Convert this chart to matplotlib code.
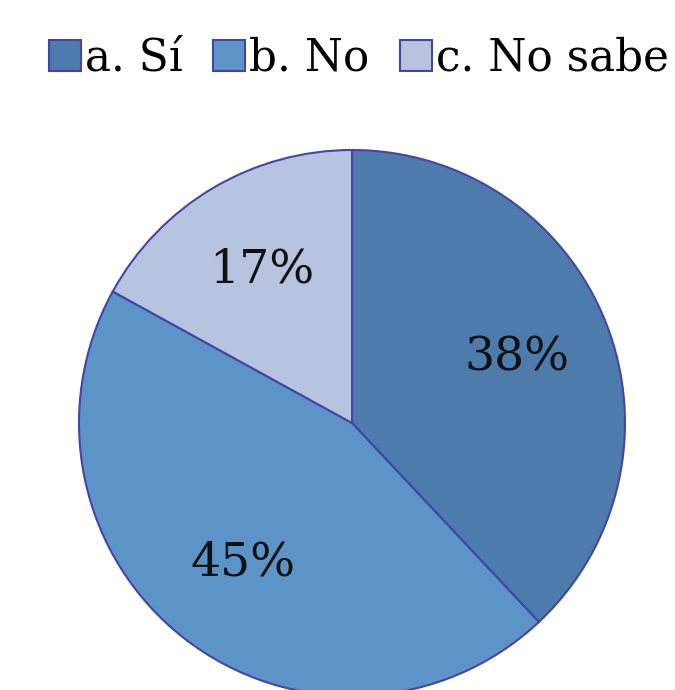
import matplotlib.pyplot as plt
from matplotlib.patches import Patch

labels = ["a. Sí", "b. No", "c. No sabe"]
values = [38, 45, 17]
colors = ["#4d7bab", "#5d94c8", "#b6c4e0"]
edge = "#4545a8"

plt.rcParams['font.family'] = ['DejaVu Serif']

fig = plt.figure(figsize=(6.75, 6.9), dpi=100)
ax = fig.add_axes([0, 0, 1, 1])

wedges, texts, autotexts = ax.pie(
    values, colors=colors, startangle=90, counterclock=False,
    center=(352, 267), radius=273, frame=True,
    autopct='%d%%', pctdistance=0.65,
    wedgeprops=dict(edgecolor=edge, linewidth=1.5),
    textprops=dict(fontsize=34, color='#111111'))
ax.set_xlim(0, 675)
ax.set_ylim(0, 690)
ax.set_aspect('equal')
ax.axis('off')

handles = [Patch(facecolor=c, edgecolor=edge, linewidth=1.5) for c in colors]
fig.legend(handles, labels, loc='center', bbox_to_anchor=(359 / 675, 1 - 58 / 690),
           ncol=3, frameon=False, fontsize=31.5, handlelength=0.72, handleheight=0.72,
           handletextpad=0.1, columnspacing=0.7, borderpad=0)

fig.savefig("out.png", dpi=100)
